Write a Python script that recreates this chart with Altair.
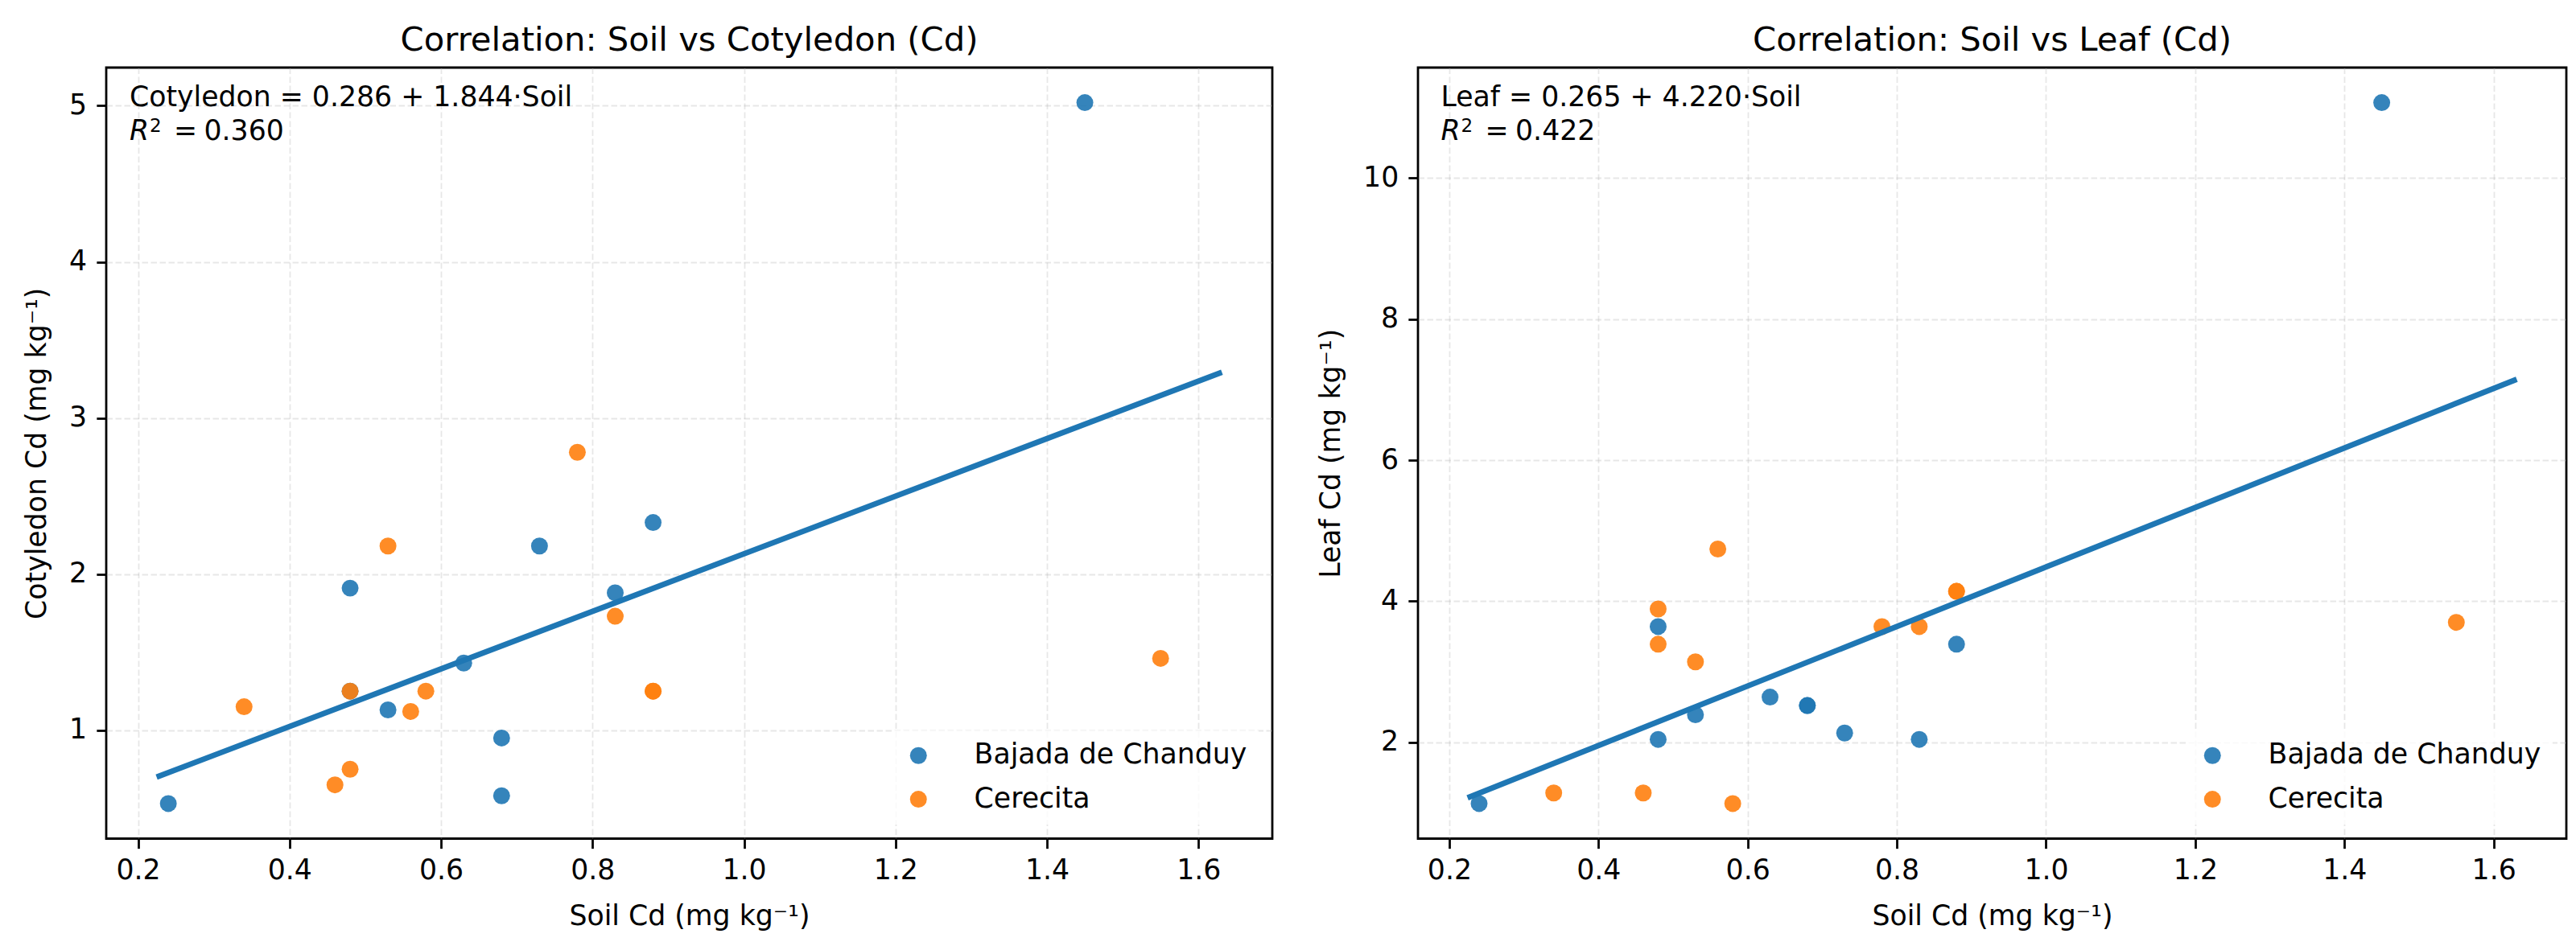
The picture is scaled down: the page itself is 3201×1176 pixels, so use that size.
import altair as alt
import pandas as pd

# ---------------- data ----------------
SITES = ["Bajada de Chanduy", "Cerecita"]
COLORS = ["#1f77b4", "#ff7f0e"]

bajada_soil = [0.24, 0.48, 0.48, 0.53, 0.63, 0.68, 0.68, 0.73, 0.83, 0.88, 1.45]
bajada_cotyledon = [0.53, 1.91, 1.25, 1.13, 1.43, 0.95, 0.58, 2.18, 1.88, 2.33, 5.02]
bajada_leaf = [1.13, 3.64, 2.04, 2.39, 2.64, 2.52, 2.52, 2.13, 2.04, 3.39, 11.07]

cerecita_soil = [0.34, 0.46, 0.48, 0.48, 0.53, 0.56, 0.58, 0.78, 0.83, 0.88, 0.88, 1.55]
cerecita_cotyledon = [1.15, 0.65, 0.75, 1.25, 2.18, 1.12, 1.25, 2.78, 1.73, 1.25, 1.25, 1.46]
cerecita_leaf = [1.28, 1.28, 3.89, 3.39, 3.14, 4.74, 1.13, 3.64, 3.64, 4.14, 4.14, 3.70]

fit_soil_range = [0.228, 1.6275]
cot_intercept, cot_slope, cot_r2 = 0.286, 1.844, 0.360
leaf_intercept, leaf_slope, leaf_r2 = 0.265, 4.220, 0.422

x_ticks = [0.2, 0.4, 0.6, 0.8, 1.0, 1.2, 1.4, 1.6]
cot_ticks = [1, 2, 3, 4, 5]
leaf_ticks = [2, 4, 6, 8, 10]

# ---------------- tables ----------------
df = pd.DataFrame({
    "site": [SITES[0]] * len(bajada_soil) + [SITES[1]] * len(cerecita_soil),
    "soil": bajada_soil + cerecita_soil,
    "cotyledon": bajada_cotyledon + cerecita_cotyledon,
    "leaf": bajada_leaf + cerecita_leaf,
})
fit_df = pd.DataFrame({"soil": fit_soil_range})

FONT = "DejaVu Sans"
FS = 34.7       # 10 pt at 250 dpi
TFS = 41.7      # 12 pt at 250 dpi
H = 958.5


def margin_domain(vals):
    lo, hi = min(vals), max(vals)
    pad = 0.05 * (hi - lo)
    return [lo - pad, hi + pad]


x_domain = margin_domain(fit_soil_range + df["soil"].tolist())


def txt(s, x, y, size=FS, align="left", style="normal"):
    return alt.Chart(pd.DataFrame({"t": [s]})).mark_text(
        align=align, baseline="alphabetic", fontSize=size, font=FONT,
        fontStyle=style, color="black"
    ).encode(x=alt.value(x), y=alt.value(y), text="t:N")


def panel(field, label, title, ytitle, ticks, b0, b1, r2, width, ytitle_x):
    line_vals = [b0 + b1 * s for s in fit_soil_range]
    y_domain = margin_domain(df[field].tolist() + line_vals)
    xs = alt.X("soil:Q", scale=alt.Scale(domain=x_domain, nice=False, zero=False),
               axis=alt.Axis(values=x_ticks, format=".1f", title="Soil Cd (mg kg⁻¹)",
                             labelPadding=11, titleX=width / 2, titleY=106.7,
                             titleBaseline="alphabetic", titleAlign="center"))
    ys = alt.Y(f"{field}:Q", scale=alt.Scale(domain=y_domain, nice=False, zero=False),
               axis=alt.Axis(values=ticks, format="d", title=ytitle,
                             labelPadding=12.15, titleX=ytitle_x, titleY=H / 2,
                             titleBaseline="alphabetic", titleAlign="center", titleAngle=270))
    pts = alt.Chart(df).mark_circle(size=440, opacity=0.9).encode(
        x=xs, y=ys,
        color=alt.Color("site:N", scale=alt.Scale(domain=SITES, range=COLORS), title=None,
                        legend=alt.Legend(orient="bottom-right", offset=17.5, padding=13.9,
                                          fillColor="rgba(255,255,255,0.8)",
                                          labelFontSize=FS, labelFont=FONT, labelColor="black",
                                          symbolType="circle", symbolSize=440, symbolOpacity=0.9,
                                          symbolStrokeWidth=0, labelOffset=52, rowPadding=18.3,
                                          labelLimit=1000)),
    )
    line = alt.Chart(fit_df).transform_calculate(
        **{field: f"{b0} + {b1} * datum.soil"}
    ).mark_line(color=COLORS[0], strokeWidth=6.94, strokeCap="square").encode(
        x=alt.X("soil:Q"), y=alt.Y(f"{field}:Q")
    )
    x0 = 0.02 * width
    layers = [
        pts, line,
        txt(f"{label} = {b0:.3f} + {b1:.3f}·Soil", x0, 47.5),
        txt("R", x0, 90.2, style="italic"),
        txt("2", x0 + 25, 80.2, size=23),
        txt("=", x0 + 55, 90.2),
        txt(f"{r2:.3f}", x0 + 92.5, 90.2),
        txt(title, width / 2, -20.8, size=TFS, align="center"),
    ]
    return alt.layer(*layers).properties(width=width, height=H)


left = panel("cotyledon", "Cotyledon", "Correlation: Soil vs Cotyledon (Cd)",
             "Cotyledon Cd (mg kg⁻¹)", cot_ticks, cot_intercept, cot_slope, cot_r2, 1449, -76)
right = panel("leaf", "Leaf", "Correlation: Soil vs Leaf (Cd)",
              "Leaf Cd (mg kg⁻¹)", leaf_ticks, leaf_intercept, leaf_slope, leaf_r2, 1427, -98)

chart = alt.hconcat(left, right, spacing=51).resolve_scale(color="independent").properties(
    padding={"left": 18, "top": 20, "right": 2, "bottom": 2}
).configure(font=FONT).configure_axis(
    labelFontSize=FS, titleFontSize=FS, labelFont=FONT, titleFont=FONT,
    labelColor="black", titleColor="black", titleFontWeight="normal",
    tickColor="black", tickSize=12.15, tickWidth=2.78, domain=False,
    gridColor="#b0b0b0", gridOpacity=0.3, gridDash=[7.5, 3.5], gridWidth=1.8,
).configure_view(stroke="black", strokeWidth=2.78)

chart.save("out.html", embed_options={"renderer": "svg", "actions": False})
